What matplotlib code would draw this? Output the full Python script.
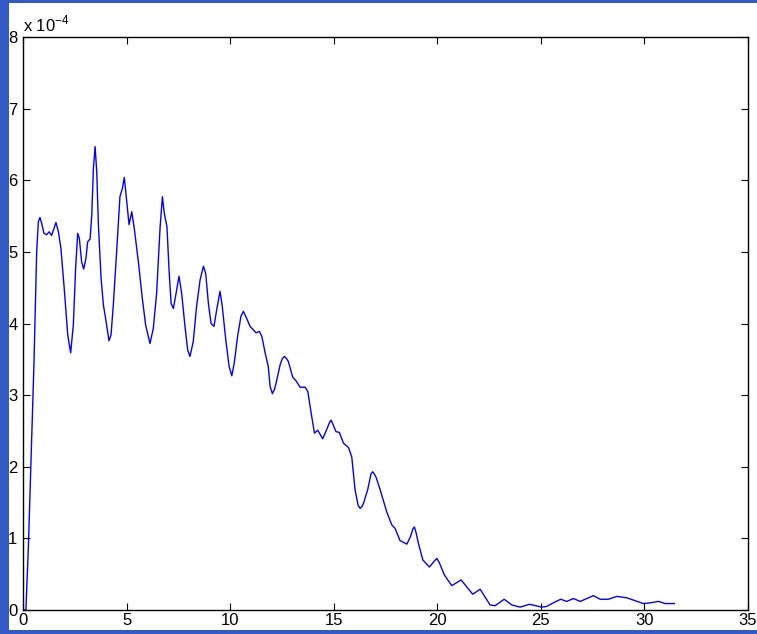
import matplotlib
matplotlib.use("Agg")
import matplotlib.pyplot as plt
from matplotlib.patches import Rectangle

# curve, y in units of 1e-4
x_vals = [0.05, 0.14, 0.26, 0.53, 0.66, 0.74, 0.82, 0.90, 1.01, 1.14, 1.26, 1.38,
          1.50, 1.59, 1.71, 1.83, 1.99, 2.16, 2.30, 2.43, 2.54, 2.64, 2.72, 2.83,
          2.93, 3.04, 3.12, 3.24, 3.32, 3.40, 3.48, 3.56, 3.64, 3.77, 3.88, 4.01,
          4.15, 4.25, 4.36, 4.52, 4.68, 4.80, 4.89, 5.00, 5.12, 5.25, 5.38, 5.57,
          5.76, 5.92, 6.13, 6.29, 6.45, 6.62, 6.73, 6.82, 6.95, 7.05, 7.15, 7.26,
          7.39, 7.53, 7.66, 7.82, 7.95, 8.06, 8.22, 8.38, 8.55, 8.71, 8.82, 8.95,
          9.08, 9.22, 9.35, 9.51, 9.62, 9.79, 9.95, 10.08, 10.20, 10.36, 10.52, 10.64,
          10.80, 10.96, 11.12, 11.25, 11.41, 11.53, 11.69, 11.84, 11.93, 12.04, 12.14, 12.25,
          12.41, 12.52, 12.62, 12.72, 12.81, 13.02, 13.18, 13.38, 13.62, 13.75, 13.91, 14.07,
          14.23, 14.47, 14.69, 14.80, 14.87, 14.95, 15.11, 15.27, 15.47, 15.71, 15.87, 16.03,
          16.18, 16.27, 16.36, 16.45, 16.64, 16.80, 16.88, 16.96, 17.05, 17.24, 17.56, 17.80,
          17.96, 18.20, 18.53, 18.70, 18.82, 18.89, 18.96, 19.09, 19.30, 19.62, 19.85, 19.98,
          20.10, 20.34, 20.70, 21.15, 21.71, 22.07, 22.55, 22.79, 23.23, 23.60, 24.00, 24.45,
          25.05, 25.28, 25.60, 25.96, 26.25, 26.57, 26.90, 27.22, 27.54, 27.86, 28.26, 28.67,
          29.15, 29.55, 29.95, 30.28, 30.68, 31.00, 31.45]
y_vals = [0.00, 0.00, 0.88, 3.45, 5.00, 5.42, 5.48, 5.40, 5.26, 5.24, 5.28, 5.23,
          5.33, 5.41, 5.28, 5.05, 4.49, 3.84, 3.59, 3.98, 4.77, 5.26, 5.19, 4.86,
          4.76, 4.91, 5.14, 5.18, 5.52, 6.17, 6.47, 6.12, 5.38, 4.63, 4.26, 4.03,
          3.76, 3.84, 4.26, 5.00, 5.77, 5.89, 6.04, 5.73, 5.38, 5.56, 5.31, 4.86,
          4.35, 3.98, 3.72, 3.93, 4.42, 5.35, 5.77, 5.54, 5.35, 4.75, 4.28, 4.21,
          4.42, 4.66, 4.42, 3.96, 3.63, 3.54, 3.75, 4.24, 4.61, 4.80, 4.70, 4.28,
          4.00, 3.96, 4.19, 4.45, 4.24, 3.77, 3.40, 3.27, 3.45, 3.82, 4.10, 4.17,
          4.07, 3.96, 3.91, 3.87, 3.89, 3.82, 3.59, 3.40, 3.12, 3.02, 3.08, 3.21,
          3.42, 3.51, 3.54, 3.51, 3.47, 3.25, 3.20, 3.11, 3.11, 3.05, 2.75, 2.47,
          2.51, 2.39, 2.54, 2.62, 2.65, 2.60, 2.49, 2.48, 2.33, 2.27, 2.14, 1.68,
          1.46, 1.42, 1.44, 1.50, 1.68, 1.90, 1.93, 1.90, 1.85, 1.68, 1.37, 1.19,
          1.14, 0.97, 0.92, 1.02, 1.13, 1.16, 1.10, 0.93, 0.70, 0.60, 0.68, 0.72,
          0.66, 0.49, 0.34, 0.42, 0.22, 0.29, 0.07, 0.06, 0.15, 0.07, 0.04, 0.08,
          0.04, 0.05, 0.10, 0.15, 0.12, 0.16, 0.12, 0.16, 0.20, 0.15, 0.15, 0.19,
          0.17, 0.13, 0.09, 0.10, 0.12, 0.09, 0.09]

x_ticks = [0, 5, 10, 15, 20, 25, 30, 35]
y_ticks = [0, 1, 2, 3, 4, 5, 6, 7, 8]

plt.rcParams['font.family'] = ['Liberation Sans', 'DejaVu Sans']
plt.rcParams['mathtext.fontset'] = 'custom'
plt.rcParams['mathtext.rm'] = 'Liberation Sans'

fig = plt.figure(figsize=(7.57, 6.34), dpi=100, facecolor='#3359c6')
# white figure window sitting on the blue slide
fig.add_artist(Rectangle((9 / 757, 4 / 634), 748 / 757, 627 / 634,
                         transform=fig.transFigure, facecolor='white',
                         edgecolor='none', zorder=-10))

ax = fig.add_axes([23 / 757, 24 / 634, 725 / 757, 573 / 634])
ax.set_zorder(1)
ax.plot(x_vals, y_vals, color='#0000ff', lw=1.0)

ax.set_xlim(0, 35)
ax.set_ylim(0, 8)
ax.set_xticks(x_ticks)
ax.set_yticks(y_ticks)
ax.tick_params(direction='in', length=5, width=0.8, top=True, right=True,
               labelsize=12, colors='black')
ax.tick_params(axis='x', pad=2)
ax.tick_params(axis='y', pad=4)
for s in ax.spines.values():
    s.set_linewidth(1.0)

ax.text(0.0, 1.004, r'x 10$^{-4}$', transform=ax.transAxes, ha='left',
        va='bottom', fontsize=12)

fig.savefig("out.png", dpi=100, facecolor=fig.get_facecolor())
